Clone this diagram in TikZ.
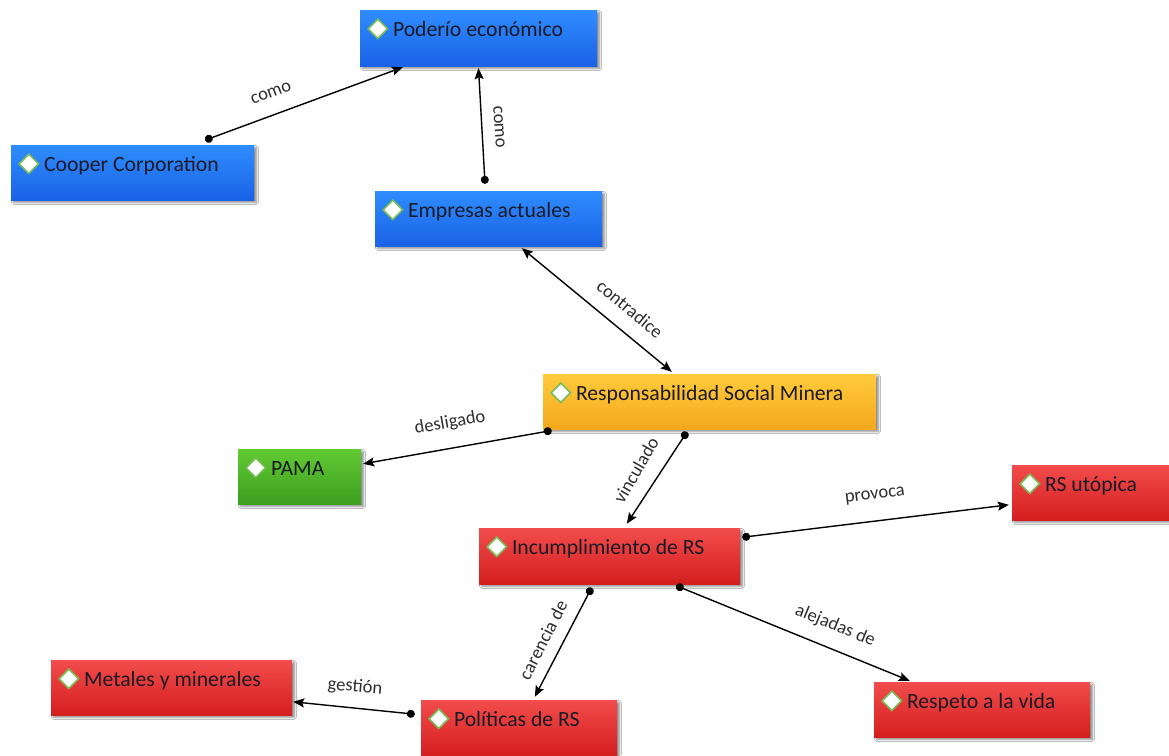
\documentclass[tikz,border=0pt]{standalone}
\usepackage{fontspec}
\setmainfont{Carlito}
\usetikzlibrary{arrows.meta,shapes.geometric,shadows.blur,calc}
\definecolor{bluetop}{HTML}{2F8DFF}
\definecolor{bluebot}{HTML}{1A62E6}
\definecolor{yeltop}{HTML}{FFCB3C}
\definecolor{yelbot}{HTML}{F5A81C}
\definecolor{grntop}{HTML}{62CA34}
\definecolor{grnbot}{HTML}{3C9E1E}
\definecolor{redtop}{HTML}{F24C4C}
\definecolor{redbot}{HTML}{D41E1E}
\definecolor{diagreen}{HTML}{78BE55}
\definecolor{nodetext}{HTML}{1A1A26}
\definecolor{labtext}{HTML}{2E2E2E}
\tikzset{
  box/.style={rectangle, draw=none, inner sep=0pt,
    blur shadow={shadow xshift=2.5pt, shadow yshift=-2.5pt, shadow blur steps=6, shadow opacity=45}},
  bluebox/.style={top color=bluetop, bottom color=bluebot},
  yelbox/.style={top color=yeltop, bottom color=yelbot},
  grnbox/.style={top color=grntop, bottom color=grnbot},
  redbox/.style={top color=redtop, bottom color=redbot},
  diam/.style={diamond, aspect=1, minimum width=20pt, minimum height=20pt, inner sep=0pt,
    fill=white, draw=diagreen, line width=1.6pt},
  ntext/.style={font=\fontsize{21.7}{24}\selectfont, text=nodetext, inner sep=0pt},
  lab/.style={font=\fontsize{18.5}{21}\selectfont, text=labtext, inner sep=1pt},
  link/.style={line width=1.4pt, draw=black},
  dotarrow/.style={link, {Circle[length=8pt]}-{Stealth[length=11pt,width=9pt,inset=2pt]}, shorten <=-4pt},
  twoarrow/.style={link, {Stealth[length=11pt,width=9pt,inset=2pt]}-{Stealth[length=11pt,width=9pt,inset=2pt]}},
}
\newcommand{\concept}[7]{%
  \node[box, #6, minimum width=#4pt, minimum height=#5pt] (#1) at (#2,#3) {};
  \node[diam] (#1-d) at ([xshift=18pt,yshift=-19pt]#1.north west) {};
  \node[ntext, anchor=base west] (#1-t) at ([xshift=33pt,yshift=-27pt]#1.north west) {#7};
}
\begin{document}
\begin{tikzpicture}[x=1pt,y=-1pt]
\useasboundingbox (0,0) rectangle (1169,755);
\fill[white] (0,0) rectangle (1169,755);

\concept{pod}{478.5}{38}{237}{56}{bluebox}{Poderío económico}
\concept{coop}{132.5}{172.5}{243}{55}{bluebox}{Cooper Corporation}
\concept{emp}{488.5}{218.5}{227}{55}{bluebox}{Empresas actuales}
\concept{rsm}{709.5}{401.5}{333}{55}{yelbox}{Responsabilidad Social Minera}
\concept{pama}{299.5}{476.5}{123}{55}{grnbox}{PAMA}
\concept{inc}{609.5}{556}{261}{56}{redbox}{Incumplimiento de RS}
\concept{uto}{1092}{492.5}{160}{55}{redbox}{RS utópica}
\concept{met}{171.5}{687.5}{241}{55}{redbox}{Metales y minerales}
\concept{pol}{519}{728}{196}{56}{redbox}{Políticas de RS}
\concept{resp}{982}{709.5}{216}{55}{redbox}{Respeto a la vida}

% connectors
\draw[dotarrow] ([xshift=198pt,yshift=6pt]coop.north west) -- ([xshift=43pt,yshift=-1pt]pod.south west);
\draw[dotarrow] ([xshift=110pt,yshift=11pt]emp.north west) -- ([yshift=-2pt]pod.south);
\draw[twoarrow] ([xshift=147pt,yshift=-2pt]emp.south west) -- ([xshift=129pt,yshift=2pt]rsm.north west);
\draw[dotarrow] ([xshift=5pt,yshift=-2pt]rsm.south west) -- ([xshift=2pt,yshift=-15pt]pama.north east);
\draw[dotarrow] ([xshift=142pt,yshift=-6pt]rsm.south west) -- ([xshift=148pt,yshift=4pt]inc.north west);
\draw[dotarrow] ([xshift=6pt,yshift=-9pt]inc.north east) -- ([xshift=-3pt,yshift=-40pt]uto.north west);
\draw[dotarrow] ([xshift=111pt,yshift=-7pt]inc.south west) -- ([xshift=114pt,yshift=3pt]pol.north west);
\draw[dotarrow] ([xshift=201pt,yshift=-3pt]inc.south west) -- ([xshift=36pt,yshift=1pt]resp.north west);
\draw[dotarrow] ([xshift=-10pt,yshift=-14pt]pol.north west) -- ([xshift=1pt,yshift=-42pt]met.north east);

% labels
\node[lab, rotate=20] (l1) at (271,93) {como};
\node[lab, rotate=-86] (l2) at (499,127) {como};
\node[lab, rotate=-39.6] (l3) at (630,309) {contradice};
\node[lab, rotate=10] (l4) at (450,423) {desligado};
\node[lab, rotate=60] (l5) at (636,470) {vinculado};
\node[lab, rotate=7] (l6) at (875,496) {provoca};
\node[lab, rotate=63] (l7) at (543,640) {carencia de};
\node[lab, rotate=-22.2] (l8) at (835,626) {alejadas de};
\node[lab, rotate=-5] (l9) at (355,687) {gestión};
\end{tikzpicture}
\end{document}
